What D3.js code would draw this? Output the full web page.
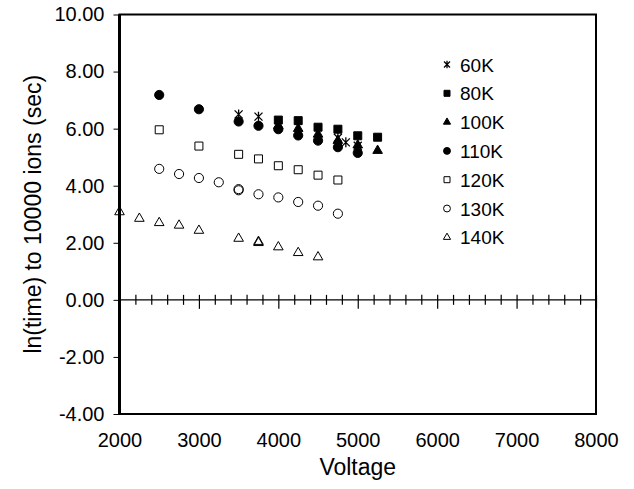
<!DOCTYPE html>
<html>
<head>
<meta charset="utf-8">
<script src="https://cdn.jsdelivr.net/npm/d3@7"></script>
<style>
	body { margin: 0; background: #fff; }
	svg { display: block; font-family: "Liberation Sans", Arial, sans-serif; }
</style>
</head>
<body>
<div class="graphic__chart"></div>
<script>
// series names and the points
const seriesNames = ['60K', '80K', '100K', '110K', '120K', '130K', '140K']

const volt60 = [3500, 3750, 4750, 4850, 5000]
const ln60 = [6.50, 6.42, 5.68, 5.52, 5.40]

const volt80 = [4000, 4250, 4500, 4750, 5000, 5250]
const ln80 = [6.30, 6.28, 6.05, 5.98, 5.75, 5.70]

const volt100 = [4000, 4250, 4500, 4750, 5000, 5250]
const ln100 = [6.10, 6.00, 5.80, 5.58, 5.42, 5.23]

const volt110 = [2500, 3000, 3500, 3750, 4000, 4250, 4500, 4750, 5000]
const ln110 = [7.18, 6.68, 6.25, 6.10, 5.98, 5.76, 5.58, 5.35, 5.15]

const volt120 = [2500, 3000, 3500, 3750, 4000, 4250, 4500, 4750]
const ln120 = [5.96, 5.39, 5.10, 4.94, 4.70, 4.56, 4.37, 4.20]

const volt130 = [2500, 2750, 3000, 3250, 3500, 3500, 3750, 4000, 4250, 4500, 4750]
const ln130 = [4.59, 4.41, 4.27, 4.12, 3.88, 3.84, 3.70, 3.59, 3.43, 3.30, 3.02]

const volt140 = [2000, 2250, 2500, 2750, 3000, 3500, 3750, 3750, 4000, 4250, 4500]
const ln140 = [3.08, 2.85, 2.70, 2.61, 2.43, 2.15, 2.04, 2.00, 1.85, 1.65, 1.50]

const yTicks = [-4, -2, 0, 2, 4, 6, 8, 10]
const xTicks = [2000, 3000, 4000, 5000, 6000, 7000, 8000]

const width = 634
const height = 489
const margin = { top: 14.5, right: 38, bottom: 75, left: 119.5 }
const innerW = width - margin.left - margin.right
const innerH = height - margin.top - margin.bottom

const allVolt = [volt60, volt80, volt100, volt110, volt120, volt130, volt140]
const allLn = [ln60, ln80, ln100, ln110, ln120, ln130, ln140]
const markers = ['asterisk', 'square', 'triangle', 'circle', 'square', 'circle', 'triangle']
const filled = [false, true, true, true, false, false, false]

const series = seriesNames.map((name, i) => ({
	name,
	marker: markers[i],
	filled: filled[i],
	points: allVolt[i].map((v, j) => ({ v, t: allLn[i][j] })),
}))

const scale = {
	x: d3.scaleLinear().domain([2000, 8000]).range([0, innerW]),
	y: d3.scaleLinear().domain([-4, 10]).range([innerH, 0]),
}

function markerPath(type, k) {
	if (type === 'asterisk') {
		const r = 5 * k
		const d = r * 0.8
		return `M${-d},${-d}L${d},${d}M${-d},${d}L${d},${-d}M0,${-r}L0,${r}`
	}
	if (type === 'square') return d3.symbol(d3.symbolSquare, 64 * k * k)()
	if (type === 'triangle') return d3.symbol(d3.symbolTriangle, 40 * k * k)()
	return d3.symbol(d3.symbolCircle, 66 * k * k)()
}

function styleMarker(sel, s) {
	sel
		.attr('fill', s.filled ? '#000' : '#fff')
		.attr('fill-opacity', s.filled ? 1 : 0)
		.attr('stroke', '#000')
		.attr('stroke-width', s.marker === 'asterisk' ? 1.3 : 1)
}

const svg = d3.select('.graphic__chart').append('svg')
	.attr('width', width)
	.attr('height', height)

const g = svg.append('g')
	.attr('transform', `translate(${margin.left},${margin.top})`)

// plot frame
g.append('rect')
	.attr('width', innerW)
	.attr('height', innerH)
	.attr('fill', 'none')
	.attr('stroke', '#000')
	.attr('stroke-width', 2)

// y axis
const fmt = d => d.toFixed(2)
g.append('g')
	.attr('class', 'axis axis--y')
	.call(d3.axisLeft(scale.y).tickValues(yTicks).tickFormat(fmt).tickSize(6).tickPadding(9))
	.call(a => a.select('.domain').attr('stroke-width', 3).attr('d', `M0,0V${innerH}`))
	.selectAll('text')
		.attr('font-size', 20)
		.attr('fill', '#000')

// x labels along the bottom
g.append('g')
	.attr('class', 'axis axis--x')
	.attr('transform', `translate(0,${innerH})`)
	.call(d3.axisBottom(scale.x).tickValues(xTicks).tickFormat(d3.format('d')).tickSize(0).tickPadding(19))
	.call(a => a.select('.domain').remove())
	.selectAll('text')
		.attr('font-size', 20)
		.attr('fill', '#000')

// x axis crossing at zero, with cross ticks
const zero = g.append('g')
	.attr('class', 'axis axis--zero')
	.attr('transform', `translate(0,${scale.y(0)})`)
	.call(d3.axisBottom(scale.x).tickValues(d3.range(2000, 8001, 200)).tickFormat(''))
zero.select('.domain').attr('d', `M0,0H${innerW}`).attr('stroke-width', 1.2)
zero.selectAll('.tick line')
	.attr('y1', -5)
	.attr('y2', d => (d % 1000 === 0 ? 9 : 5))
	.attr('stroke-width', 1.2)

// points
const layer = g.append('g').attr('class', 'points')
series.forEach(s => {
	layer.append('g')
		.attr('class', `g-${s.name}`)
		.selectAll('path')
		.data(s.points)
		.enter().append('path')
			.attr('transform', d => `translate(${scale.x(d.v)},${scale.y(d.t)})`)
			.attr('d', markerPath(s.marker, 1))
			.call(styleMarker, s)
})

// legend
const legend = svg.append('g').attr('class', 'legend')
const row = legend.selectAll('g')
	.data(series)
	.enter().append('g')
		.attr('transform', (d, i) => `translate(447,${64.5 + i * 28.8})`)

row.append('path')
	.attr('d', d => markerPath(d.marker, 0.75))
	.each(function (d) { d3.select(this).call(styleMarker, d) })

row.append('text')
	.attr('x', 13)
	.attr('y', 7)
	.attr('font-size', 19)
	.text(d => d.name)

// axis titles
const labels = svg.append('g').attr('class', 'labels')
labels.append('text')
	.attr('text-anchor', 'middle')
	.attr('font-size', 23)
	.attr('transform', `translate(41,${margin.top + innerH / 2}) rotate(-90)`)
	.text('ln(time) to 10000 ions (sec)')

labels.append('text')
	.attr('text-anchor', 'middle')
	.attr('font-size', 23)
	.attr('x', margin.left + innerW / 2)
	.attr('y', 475)
	.text('Voltage')
</script>
</body>
</html>
